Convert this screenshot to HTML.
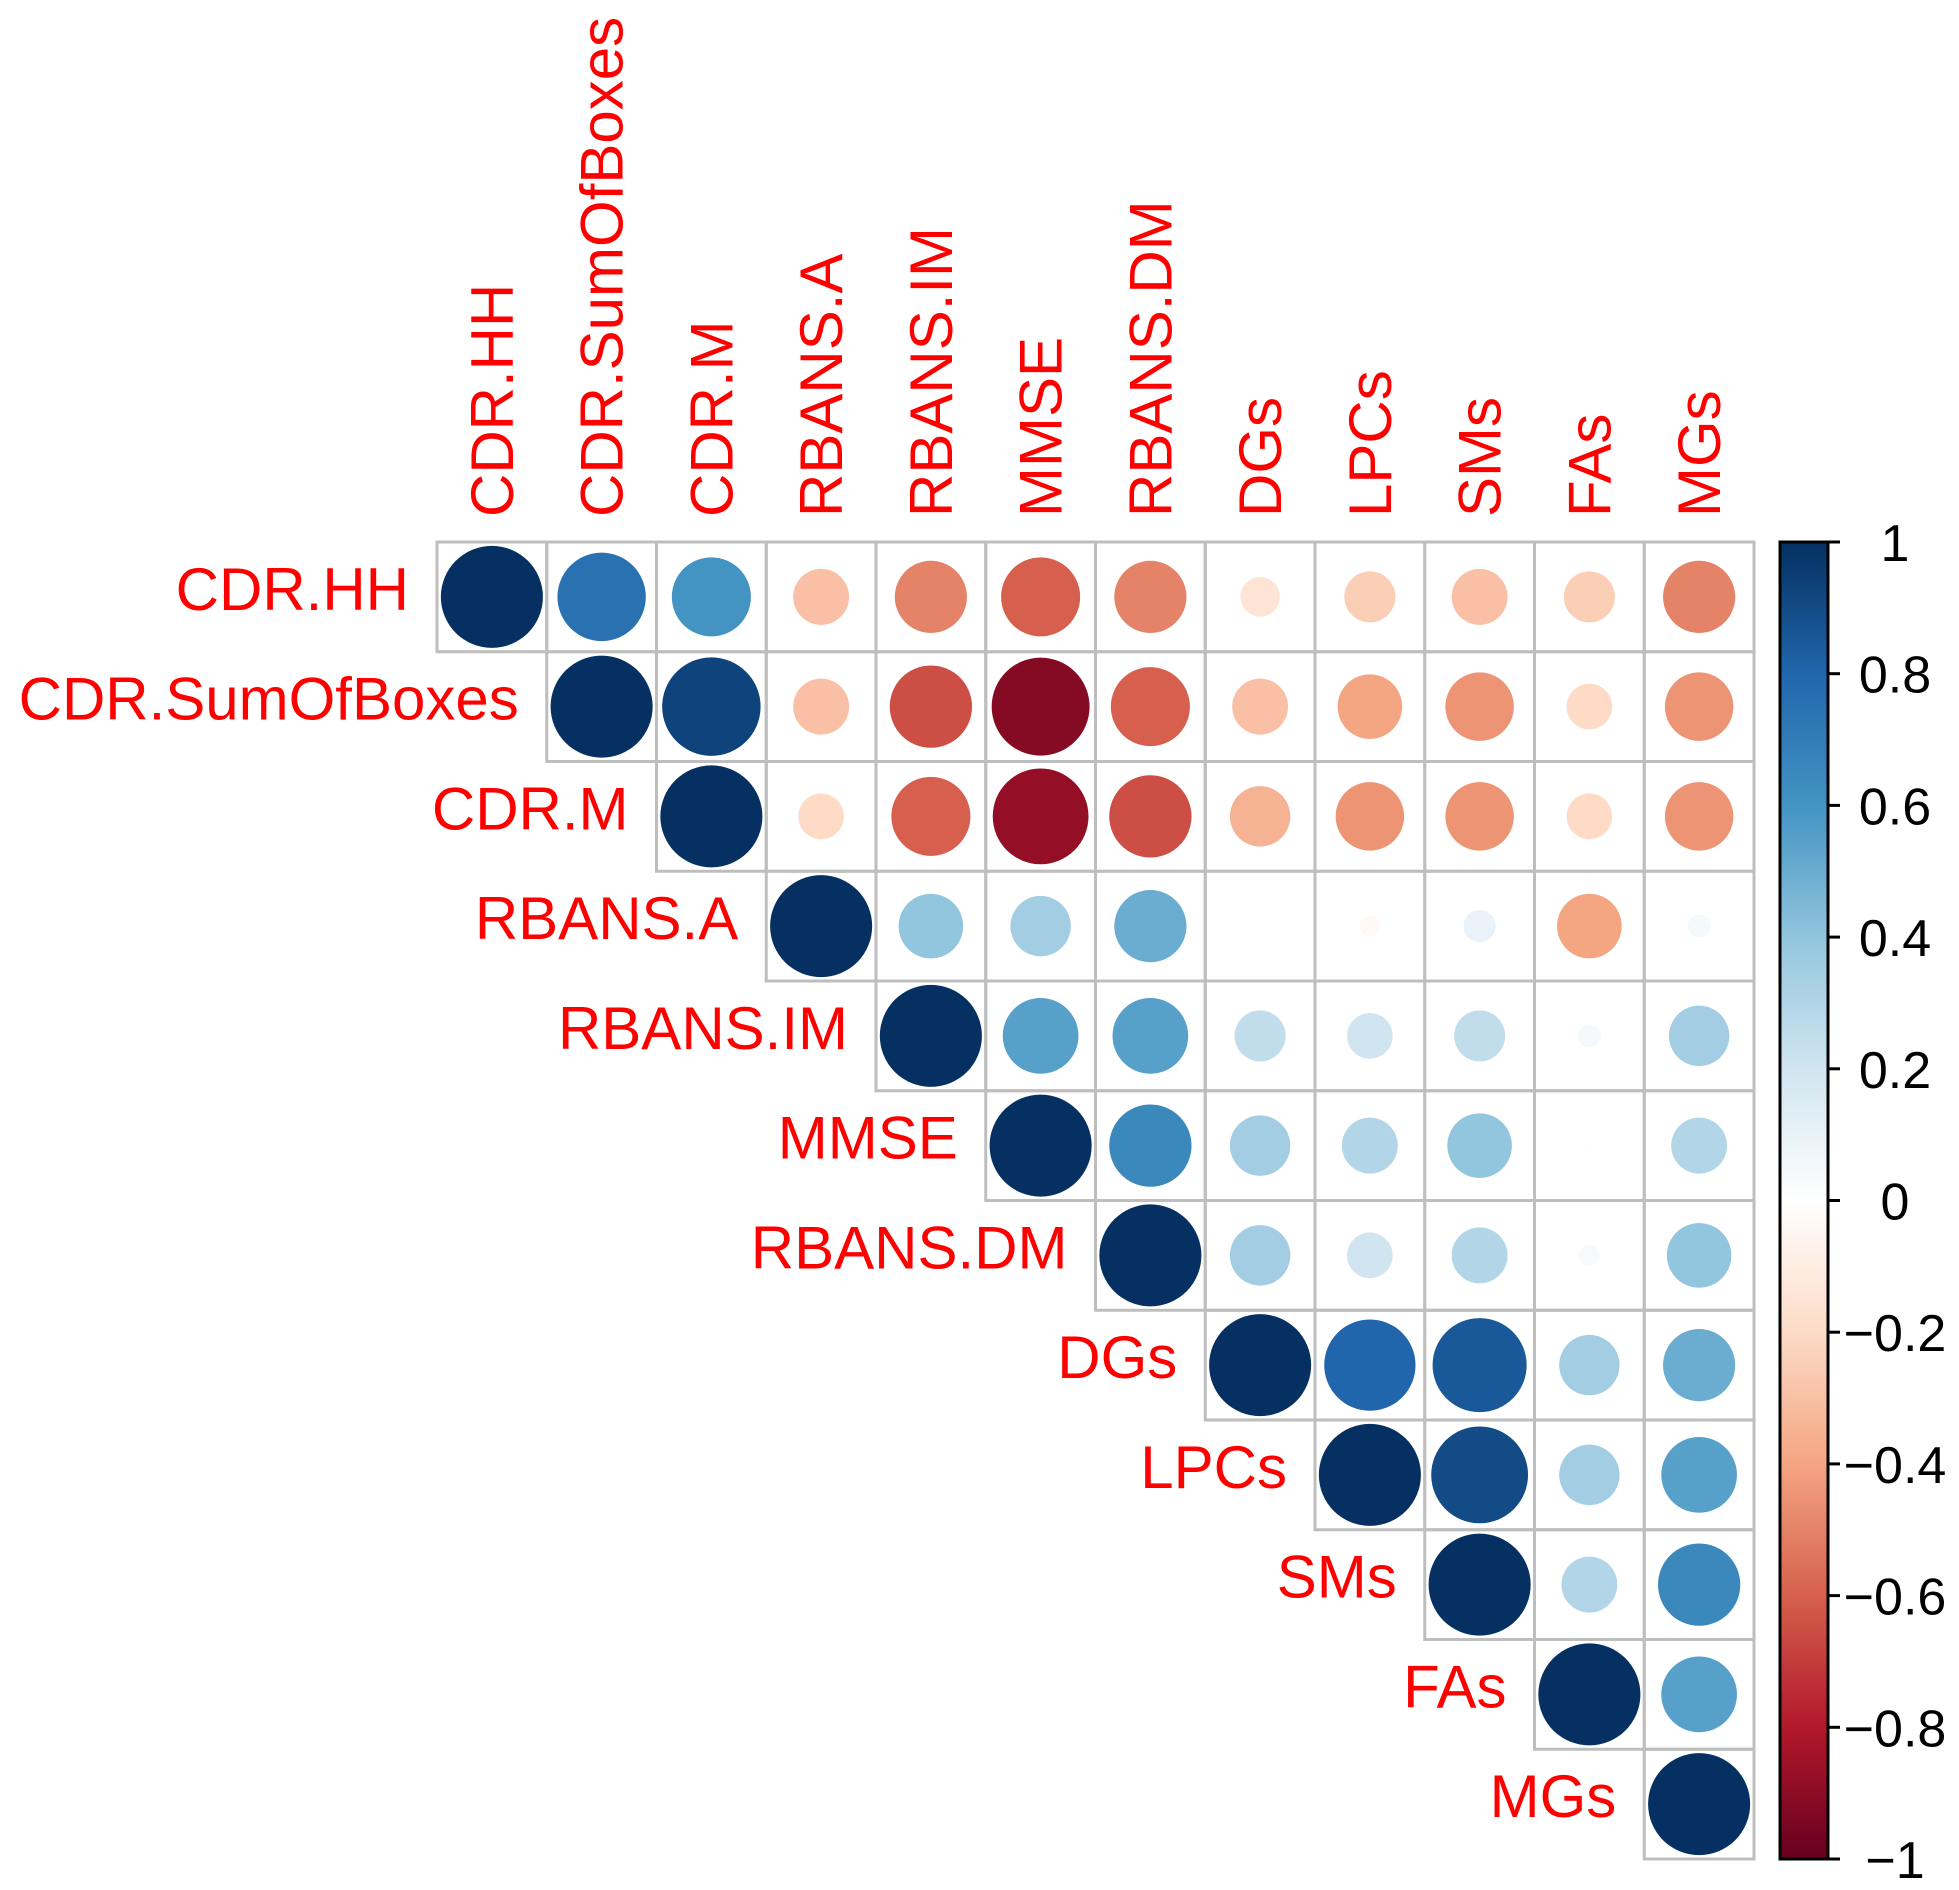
<!DOCTYPE html>
<html><head><meta charset="utf-8">
<style>
html,body{margin:0;padding:0;background:#fff;}
svg{display:block;}
text{font-family:"Liberation Sans",Arial,sans-serif;}
</style></head>
<body>
<svg id="chart" width="1959" height="1890" viewBox="0 0 1959 1890" xmlns="http://www.w3.org/2000/svg">
<defs>
<linearGradient id="cbgrad" x1="0" y1="0" x2="0" y2="1">
<stop offset="0" stop-color="#053061"/><stop offset="0.1" stop-color="#2166AC"/><stop offset="0.2" stop-color="#4393C3"/><stop offset="0.3" stop-color="#92C5DE"/><stop offset="0.4" stop-color="#D1E5F0"/><stop offset="0.5" stop-color="#FFFFFF"/><stop offset="0.6" stop-color="#FDDBC7"/><stop offset="0.7" stop-color="#F4A582"/><stop offset="0.8" stop-color="#D6604D"/><stop offset="0.9" stop-color="#B2182B"/><stop offset="1" stop-color="#67001F"/>
</linearGradient>
</defs>
<g id="grid"></g>
<g id="marks"></g>
<g id="labels"></g>
<g id="colorbar"></g>
</svg>
<script>
const variables = ["CDR.HH","CDR.SumOfBoxes","CDR.M","RBANS.A","RBANS.IM","MMSE","RBANS.DM","DGs","LPCs","SMs","FAs","MGs"];
const row0 = [1, 0.75, 0.6, -0.3, -0.5, -0.6, -0.5, -0.15, -0.25, -0.3, -0.25, -0.5];
const row1 = [1, 0.93, -0.3, -0.65, -0.92, -0.6, -0.3, -0.4, -0.45, -0.2, -0.45];
const row2 = [1, -0.2, -0.6, -0.88, -0.65, -0.35, -0.45, -0.45, -0.2, -0.45];
const row3 = [1, 0.4, 0.35, 0.5, 0.0, -0.04, 0.1, -0.4, 0.05];
const row4 = [1, 0.55, 0.55, 0.25, 0.2, 0.25, 0.05, 0.35];
const row5 = [1, 0.65, 0.35, 0.3, 0.4, 0.01, 0.3];
const row6 = [1, 0.35, 0.2, 0.3, 0.04, 0.4];
const row7 = [1, 0.8, 0.85, 0.35, 0.5];
const row8 = [1, 0.9, 0.35, 0.55];
const row9 = [1, 0.3, 0.65];
const row10 = [1, 0.55];
const row11 = [1];
const rows = [row0,row1,row2,row3,row4,row5,row6,row7,row8,row9,row10,row11];
const colorbarTicks = [1,0.8,0.6,0.4,0.2,0,-0.2,-0.4,-0.6,-0.8,-1];

const NS="http://www.w3.org/2000/svg";
const X0=437, Y0=542, CELL=109.75;
const cx = j => X0 + CELL*(j+0.5);
const cy = i => Y0 + CELL*(i+0.5);
const rad = v => 0.465*CELL*Math.sqrt(Math.abs(v));
const pal = ["#67001F","#B2182B","#D6604D","#F4A582","#FDDBC7","#FFFFFF","#D1E5F0","#92C5DE","#4393C3","#2166AC","#053061"];
function hex(h){return [1,3,5].map(k=>parseInt(h.substr(k,2),16));}
function colorOf(v){
  const t=(v+1)/2*10; const i=Math.min(9,Math.floor(t)); const f=t-i;
  const a=hex(pal[i]), b=hex(pal[i+1]);
  return "rgb("+a.map((c,k)=>Math.round(c+(b[k]-c)*f)).join(",")+")";
}
function mk(tag,attrs,parent){const e=document.createElementNS(NS,tag);for(const k in attrs)e.setAttribute(k,attrs[k]);parent.appendChild(e);return e;}
const grid=document.getElementById("grid"), marks=document.getElementById("marks"), labels=document.getElementById("labels"), cb=document.getElementById("colorbar");

rows.forEach((row,i)=>{
  row.forEach((v,k)=>{
    const j=i+k;
    const cell=mk("rect",{x:X0+CELL*j,y:Y0+CELL*i,width:CELL,height:CELL,fill:"none",stroke:"#BEBEBE","stroke-width":3},grid);
    
    
    const c=mk("circle",{cx:cx(j),cy:cy(i),r:rad(v),fill:colorOf(v)},marks);
    
    
  });
});
variables.forEach((name,i)=>{
  const t=mk("text",{x:X0+CELL*i-28,y:cy(i)+13,"text-anchor":"end","font-size":60,fill:"#FF0000"},labels);
  t.textContent=name;
  
  
  const c=mk("text",{x:0,y:0,"text-anchor":"start","font-size":60,fill:"#FF0000",transform:"translate("+(cx(i)+21)+",517) rotate(-90)"},labels);
  c.textContent=name;
  
  
});
const CB_L=1780, CB_R=1828, CB_T=542, CB_B=1859;
const cbY = v => CB_B - (v+1)/2*(CB_B-CB_T);
const bar=mk("rect",{x:CB_L,y:CB_T,width:CB_R-CB_L,height:CB_B-CB_T,fill:"url(#cbgrad)",stroke:"#000","stroke-width":3},cb);


colorbarTicks.forEach(v=>{
  const y=cbY(v);
  const tk=mk("line",{x1:CB_R,x2:CB_R+12,y1:y,y2:y,stroke:"#000","stroke-width":3},cb);
  
  
  const t=mk("text",{x:1895,y:y+19,"text-anchor":"middle","font-size":52,fill:"#000"},cb);
  t.textContent=(v<0?"\u2212":"")+String(Math.abs(v));
  
  
});
</script>
</body></html>
